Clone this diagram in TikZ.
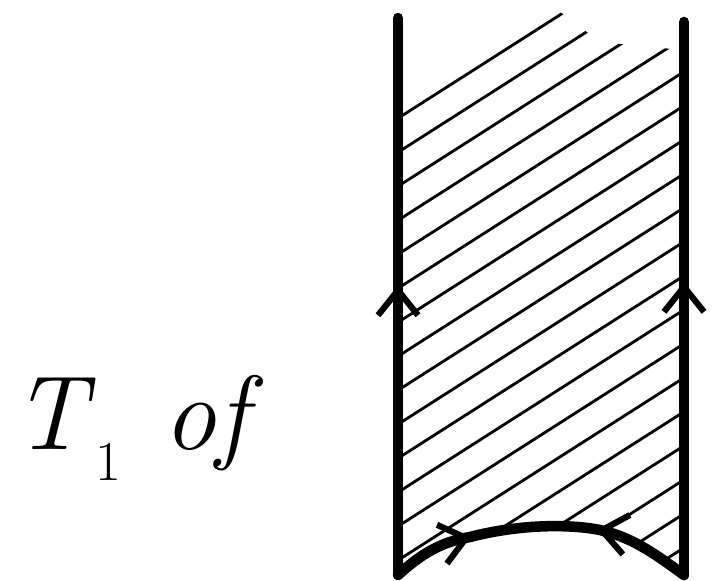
\documentclass[tikz,border=0pt]{standalone}
\usepackage{tikz}
\usetikzlibrary{arrows.meta,decorations.markings}

\tikzset{
  wall/.style={line width=6pt, line cap=round},
  hatchline/.style={line width=1.6pt, line cap=round},
  barb/.tip={Straight Barb[length=0.5cm, width=0.8cm, line width=3.5pt]},
  upmark/.style={postaction={decorate}, decoration={markings,
      mark=at position #1 with {\arrow{barb}}}},
  inmarks/.style={postaction={decorate}, decoration={markings,
      mark=at position 0.27 with {\arrow{barb}},
      mark=at position 0.68 with {\arrowreversed{barb}}}}
}

\begin{document}
\begin{tikzpicture}[x=0.02cm, y=-0.02cm]
  \useasboundingbox (0,0) rectangle (713,581);

  % Label
  \node (lbl) at (138,428) {\fontsize{60}{62}\selectfont
    \textit{T}\raisebox{-0.3em}{\fontsize{32}{34}\selectfont 1}\hspace{0.4em}\textit{of}};

  % Corners of the strip
  \coordinate (lb) at (398,575);
  \coordinate (lt) at (398,18);
  \coordinate (rb) at (684,575);
  \coordinate (rt) at (684,22);

  % Hatching
  \begin{scope}
    \clip (400,117) .. controls (460,50) and (500,30) .. (555,8) -- (600,42)
      -- (682,50) -- (rb) .. controls (650,550) and (630,537) .. (600,530)
      .. controls (570,524) and (520,524) .. (470,537)
      .. controls (440,542) and (420,555) .. (lb) -- cycle;
    \foreach \c in {117,151,...,800}
      \draw[hatchline] (400,\c) -- (682,\c-180);
  \end{scope}

  % Walls
  \draw[wall, upmark=0.52] (lb) -- (lt);
  \draw[wall, upmark=0.53] (rb) -- (rt);

  % Bottom edge
  \draw[wall, inmarks] (lb) .. controls (420,555) and (440,542) .. (470,537)
    .. controls (520,524) and (570,524) .. (600,530)
    .. controls (630,537) and (650,550) .. (rb);
\end{tikzpicture}
\end{document}
